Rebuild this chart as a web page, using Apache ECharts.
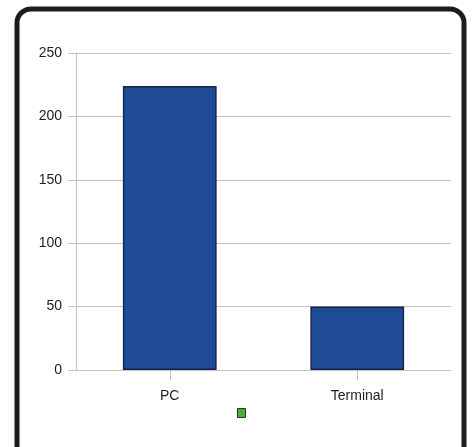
<!DOCTYPE html>
<html>
<head>
<meta charset="utf-8">
<script src="https://cdn.jsdelivr.net/npm/echarts@6/dist/echarts.min.js"></script>
<style>
  html, body { margin: 0; padding: 0; background: #fff; }
  #chart { width: 474px; height: 447px; }
</style>
</head>
<body>
<div id="chart"></div>
<script>
const categories = ['PC', 'Terminal']
const counts = [224, 50]
const yTicks = [0, 50, 100, 150, 200, 250]

const gridColor = '#c9c1bd'
const labelColor = '#1e1e1e'

const chart = echarts.init(document.getElementById('chart'), null, { renderer: 'canvas' })

chart.setOption({
  animation: false,
  backgroundColor: '#ffffff',
  textStyle: { fontFamily: 'Liberation Sans, Arial, sans-serif' },
  graphic: [
    {
      type: 'rect',
      z: 100,
      shape: { x: 17, y: 9, width: 447, height: 470, r: 14 },
      style: { fill: 'none', stroke: '#1c1c1c', lineWidth: 5 },
    },
  ],
  grid: { left: 76, top: 53, right: 23, bottom: 77 },
  legend: {
    left: 237,
    top: 408,
    padding: 0,
    itemWidth: 8,
    itemHeight: 9,
    itemGap: 0,
    icon: 'rect',
    formatter: () => '',
    data: [{ name: 'Count', itemStyle: { color: '#4fae3a', borderColor: '#1f3a1c', borderWidth: 1 } }],
  },
  xAxis: {
    type: 'category',
    data: categories,
    axisLine: { show: true, lineStyle: { color: gridColor, width: 1 } },
    axisTick: { show: true, alignWithLabel: true, length: 10, lineStyle: { color: gridColor } },
    axisLabel: { color: labelColor, fontSize: 14, margin: 19 },
    splitLine: { show: false },
  },
  yAxis: {
    type: 'value',
    min: yTicks[0],
    max: yTicks[yTicks.length - 1],
    interval: 50,
    axisLine: { show: true, lineStyle: { color: gridColor, width: 1 } },
    axisTick: { show: true, length: 8, lineStyle: { color: gridColor } },
    axisLabel: { color: labelColor, fontSize: 14, margin: 14 },
    splitLine: { show: true, lineStyle: { color: gridColor, width: 1 } },
  },
  series: [
    {
      name: 'Count',
      type: 'bar',
      data: counts,
      barWidth: '50%',
      itemStyle: { color: '#1f4b94', borderColor: '#14254a', borderWidth: 1.5 },
    },
  ],
})
</script>
</body>
</html>
